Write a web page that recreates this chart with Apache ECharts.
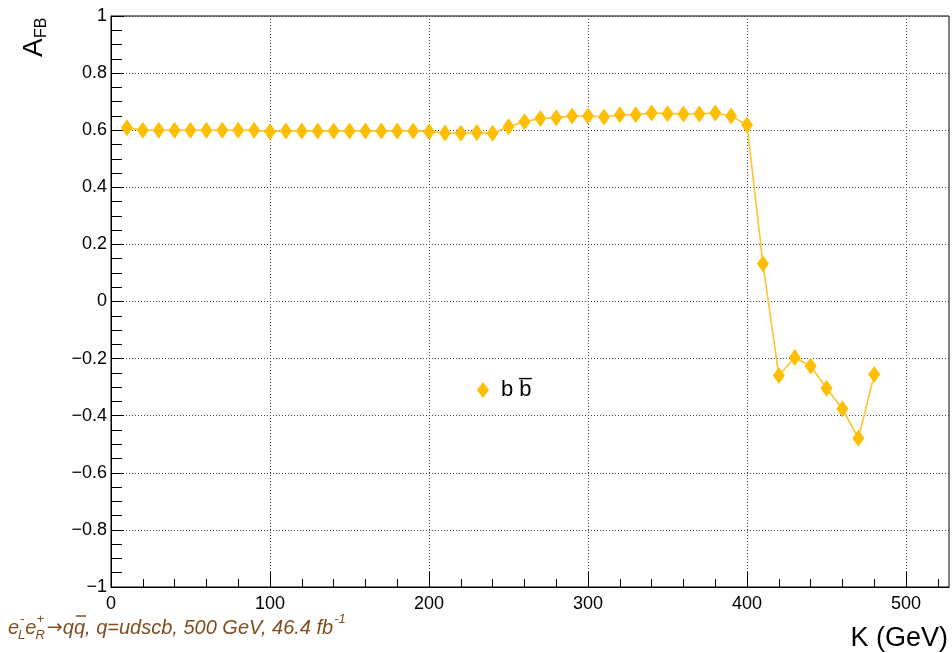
<!DOCTYPE html>
<html>
<head>
<meta charset="utf-8">
<script src="https://cdn.jsdelivr.net/npm/echarts@6/dist/echarts.min.js"></script>
<style>
html,body{margin:0;padding:0;background:#fff;}
#chart{width:952px;height:653px;}
</style>
</head>
<body>
<div id="chart"></div>
<script>
// ---- data ----
const kValues = [10,20,30,40,50,60,70,80,90,100,110,120,130,140,150,160,170,180,190,200,
                 210,220,230,240,250,260,270,280,290,300,310,320,330,340,350,360,370,380,390,400,
                 410,420,430,440,450,460,470,480];
const afbValues = [0.609,0.600,0.600,0.600,0.600,0.600,0.600,0.600,0.600,0.595,
                   0.597,0.597,0.597,0.597,0.597,0.597,0.597,0.597,0.597,0.595,
                   0.590,0.589,0.592,0.589,0.612,0.630,0.641,0.644,0.650,0.650,
                   0.646,0.654,0.654,0.660,0.658,0.657,0.657,0.660,0.650,0.618,
                   0.132,-0.259,-0.196,-0.226,-0.304,-0.376,-0.479,-0.256];
const seriesName = 'b b\u0305';
const xMajorTicks = [0,100,200,300,400,500];
const xMinorTicks = [20,40,60,80,120,140,160,180,220,240,260,280,320,340,360,380,420,440,460,480,520];
const xTitle = 'K (GeV)';
const yTitleMain = 'A';
const yTitleSub = 'FB';

const FONT = '"Liberation Sans", Arial, Helvetica, sans-serif';
const BROWN = '#7f4f20';
const GRID = '#444';

const chart = echarts.init(document.getElementById('chart'), null, {renderer:'canvas'});

const ctx = document.createElement('canvas').getContext('2d');
function tw(text, font){ ctx.font = font; return ctx.measureText(text).width; }

// annotation layout (sequential text pieces)
function buildAnnotation(){
  const els = [];
  const fMain = 'italic 20px ' + FONT;
  const fSmall = 'italic 13px ' + FONT;
  let x = 8; const yc = 628;
  const add = (t, xx, yy, font) => els.push({type:'text', x:xx, y:yy,
      style:{text:t, font:font, fill:BROWN, align:'left', verticalAlign:'middle'}});
  add('e', x, yc, fMain); x += tw('e', fMain);
  add('-', x + 1, 619, fSmall); add('L', x - 1, 635, fSmall);
  x += Math.max(tw('-', fSmall), tw('L', fSmall)) - 1;
  add('e', x, yc, fMain); x += tw('e', fMain);
  add('+', x, 619, fSmall); add('R', x - 1, 635, fSmall);
  x += Math.max(tw('+', fSmall), tw('R', fSmall)) + 1;
  const arrowFont = '19px "DejaVu Sans", ' + FONT;
  add('\u2192', x, yc, arrowFont); x += tw('\u2192', arrowFont);
  add('q', x, yc, fMain); x += tw('q', fMain);
  // q-bar
  add('q', x, yc, fMain);
  const qw = tw('q', fMain);
  els.push({type:'line', shape:{x1:x + 2, y1:616, x2:x + qw + 1, y2:616}, style:{stroke:BROWN, lineWidth:1.5}});
  x += qw;
  const rest = ', q=udscb, 500 GeV, 46.4 fb';
  add(rest, x, yc, fMain); x += tw(rest, fMain);
  add('-1', x + 1, 619, fSmall);
  return els;
}

const option = {
  animation: false,
  backgroundColor: '#fff',
  grid: {left:111, right:3, top:16, bottom:66, show:true, borderColor:'#000', borderWidth:1},
  legend: {
    data:[{name:seriesName, icon:'diamond'}],
    left:477, top:379, padding:0,
    itemWidth:12, itemHeight:16,
    textStyle:{fontSize:22, color:'#000', fontFamily:FONT, padding:[0,0,0,7]}
  },
  xAxis: [{
    type:'value', min:0, max:527, interval:100,
    axisLine:{show:true, onZero:false, lineStyle:{color:'#000', width:1}},
    axisTick:{show:true, inside:true, length:15, customValues:xMajorTicks, lineStyle:{color:'#000', width:1}},
    axisLabel:{customValues:xMajorTicks, fontSize:18, color:'#000', fontFamily:FONT, margin:8},
    splitLine:{show:true, lineStyle:{color:GRID, width:1, type:[1,2]}}
  },{
    type:'value', min:0, max:527, position:'bottom',
    axisLine:{show:false, onZero:false},
    axisTick:{show:true, inside:true, length:8, customValues:xMinorTicks, lineStyle:{color:'#000', width:1}},
    axisLabel:{show:false},
    splitLine:{show:false}
  }],
  yAxis: {
    type:'value', min:-1, max:1, interval:0.2,
    axisLine:{show:true, onZero:false, lineStyle:{color:'#000', width:1}},
    axisTick:{show:true, inside:true, length:13, lineStyle:{color:'#000', width:1}},
    minorTick:{show:true, splitNumber:4, length:11, lineStyle:{color:'#000', width:1}},
    axisLabel:{fontSize:18, color:'#000', fontFamily:FONT, margin:4,
      formatter: v => {
        const a = parseFloat(Math.abs(v).toFixed(1)).toString();
        return (v < -1e-9 ? '\u2212' : '') + a;
      }},
    splitLine:{show:true, lineStyle:{color:GRID, width:1, type:[1,2]}}
  },
  series: [{
    type:'line', name:seriesName, xAxisIndex:0,
    data: kValues.map((k,i)=>[k, afbValues[i]]),
    symbol:'diamond', symbolSize:[12,17], showSymbol:true,
    itemStyle:{color:'#ffbe00'},
    lineStyle:{color:'#ffc42e', width:1.6},
    z:5
  }],
  graphic: [
    {type:'text', x:948, y:639, style:{text:xTitle, font:'27px ' + FONT, fill:'#000', align:'right', verticalAlign:'middle'}},
    {type:'group', x:48, y:57, rotation:Math.PI/2, children:[
      {type:'text', x:0, y:0, style:{text:yTitleMain, font:'28px ' + FONT, fill:'#000', align:'left', verticalAlign:'bottom'}},
      {type:'text', x:19, y:2, style:{text:yTitleSub, font:'16px ' + FONT, fill:'#000', align:'left', verticalAlign:'bottom'}}
    ]},
    {type:'group', children: buildAnnotation()}
  ]
};
chart.setOption(option);
</script>
</body>
</html>
